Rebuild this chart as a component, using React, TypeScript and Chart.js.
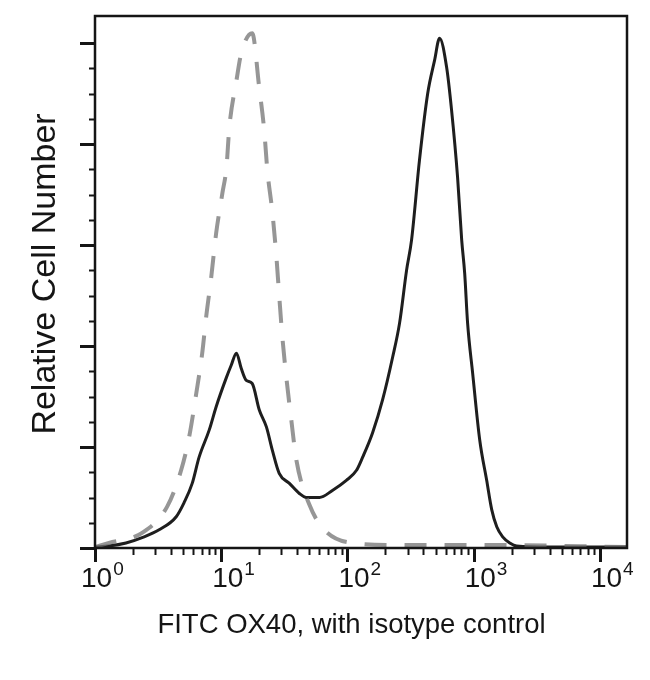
import React, { useEffect, useRef } from "react";
import { Chart, registerables } from "chart.js";

Chart.register(...registerables);

// Solid histogram: FITC OX40 stained sample
const solidX = [1, 1.29, 1.76, 2.45, 3.22, 4.4, 5.08, 5.89, 6.68, 8.04, 9.12, 11.0, 12.0, 13.2, 14.4, 15.8, 17.6, 20.0, 22.8, 25.4, 28.8, 34.7, 41.6, 47.3, 60, 76, 98, 118, 132, 158, 190, 228, 259, 294, 322, 372, 432, 490, 537, 611, 668, 746, 804, 849, 895, 982, 1117, 1268, 1390, 1524, 1698, 1932, 2193, 4009, 16400];
const solidY = [0.01, 0.02, 0.05, 0.11, 0.18, 0.31, 0.45, 0.64, 0.9, 1.17, 1.4, 1.69, 1.81, 1.93, 1.78, 1.66, 1.63, 1.37, 1.2, 0.97, 0.74, 0.64, 0.54, 0.5, 0.5, 0.57, 0.67, 0.77, 0.9, 1.14, 1.47, 1.89, 2.23, 2.75, 3.05, 3.84, 4.5, 4.83, 5.05, 4.76, 4.34, 3.67, 3.05, 2.72, 2.23, 1.73, 1.07, 0.67, 0.38, 0.21, 0.11, 0.05, 0.02, 0.01, 0.01];

// Dashed histogram: isotype control
const isoX = [1, 1.29, 2.36, 3.73, 4.81, 5.57, 6.34, 7.07, 7.6, 8.33, 9.12, 10.2, 11.0, 11.6, 13.2, 14.4, 17.6, 20.0, 21.9, 23.2, 25.4, 27.3, 28.8, 30.5, 32.8, 35.9, 39.4, 49.9, 65.6, 110, 259, 1117, 16400];
const isoY = [0.01, 0.05, 0.15, 0.41, 0.77, 1.1, 1.53, 1.93, 2.29, 2.68, 3.12, 3.51, 3.77, 4.17, 4.63, 4.9, 5.1, 4.56, 4.14, 3.74, 3.33, 2.9, 2.5, 2.09, 1.69, 1.27, 0.87, 0.43, 0.18, 0.05, 0.03, 0.03, 0.01];

// Axes
const xExponents = [0, 1, 2, 3, 4];
const xMin = 1;
const xMax = 16400;
const yMin = 0;
const yMax = 5.27;
const yMajorTicks = [0, 1, 2, 3, 4, 5];
const yMinorStep = 0.25;
const xTitle = "FITC OX40, with isotype control";
const yTitle = "Relative Cell Number";

const FONT = '"Liberation Sans", Arial, Helvetica, sans-serif';

const overlay = {
  id: "overlay",
  afterDraw(chart: any) {
    const ctx = chart.ctx as CanvasRenderingContext2D;
    const { left, right, top, bottom } = chart.chartArea;
    const xs = chart.scales.x;
    const ys = chart.scales.y;
    ctx.save();
    ctx.strokeStyle = "#151515";
    ctx.fillStyle = "#151515";

    // frame
    ctx.lineWidth = 2.5;
    ctx.strokeRect(left, top, right - left, bottom - top);

    // y ticks
    const last = yMajorTicks[yMajorTicks.length - 1];
    for (let v = 0; v <= last + 1e-9; v += yMinorStep) {
      const isMajor = Math.abs(v - Math.round(v)) < 1e-6;
      const y = Math.round(ys.getPixelForValue(v)) + 0.5;
      const len = isMajor ? 15 : 6;
      ctx.lineWidth = isMajor ? 3 : 2;
      ctx.beginPath();
      ctx.moveTo(left, y);
      ctx.lineTo(left - len, y);
      ctx.stroke();
    }

    // x ticks
    for (const e of xExponents) {
      for (let m = 1; m <= 9; m++) {
        const val = m * Math.pow(10, e);
        if (val > xMax) break;
        const x = Math.round(xs.getPixelForValue(val)) + 0.5;
        const isMajor = m === 1;
        ctx.lineWidth = isMajor ? 3 : 2;
        ctx.beginPath();
        ctx.moveTo(x, bottom);
        ctx.lineTo(x, bottom + (isMajor ? 14 : 7));
        ctx.stroke();
      }
    }

    // x tick labels 10^n
    ctx.textAlign = "left";
    ctx.textBaseline = "alphabetic";
    for (const e of xExponents) {
      const x = xs.getPixelForValue(Math.pow(10, e));
      ctx.font = `28px ${FONT}`;
      const base = "10";
      const w = ctx.measureText(base).width;
      const x0 = e === 0 ? x - 14 : x - 9;
      ctx.fillText(base, x0, bottom + 39);
      ctx.font = `19px ${FONT}`;
      ctx.fillText(String(e), x0 + w + 1, bottom + 27);
    }

    // x title
    ctx.font = `27.5px ${FONT}`;
    ctx.textAlign = "center";
    ctx.fillText(xTitle, 343.5, bottom + 85);

    // y title
    ctx.translate(47, 266);
    ctx.rotate(-Math.PI / 2);
    ctx.font = `34px ${FONT}`;
    ctx.textAlign = "center";
    ctx.fillText(yTitle, 0, 0);
    ctx.restore();
  },
};

export default function App() {
  const ref = useRef<HTMLCanvasElement | null>(null);
  useEffect(() => {
    if (!ref.current) return;
    const chart = new Chart(ref.current, {
      type: "line",
      data: {
        datasets: [
          {
            label: "Isotype control",
            data: isoX.map((x, i) => ({ x, y: isoY[i] })),
            borderColor: "rgba(115,115,115,0.75)",
            borderWidth: 4,
            borderDash: [22, 18],
            pointRadius: 0,
            cubicInterpolationMode: "monotone",
            fill: false,
          },
          {
            label: "FITC OX40",
            data: solidX.map((x, i) => ({ x, y: solidY[i] })),
            borderColor: "#1e1e1e",
            borderWidth: 3,
            pointRadius: 0,
            cubicInterpolationMode: "monotone",
            fill: false,
          },
        ],
      },
      options: {
        animation: false,
        responsive: false,
        events: [],
        layout: { padding: { left: 87, top: 8, right: 15, bottom: 124 } },
        scales: {
          x: { type: "logarithmic", min: xMin, max: xMax, display: false },
          y: { type: "linear", min: yMin, max: yMax, display: false },
        },
        plugins: {
          legend: { display: false },
          tooltip: { enabled: false },
        },
      },
      plugins: [overlay],
    });
    return () => chart.destroy();
  }, []);
  return (
    <canvas
      ref={ref}
      width={634}
      height={664}
      style={{ display: "block", width: 634, height: 664 }}
    />
  );
}
